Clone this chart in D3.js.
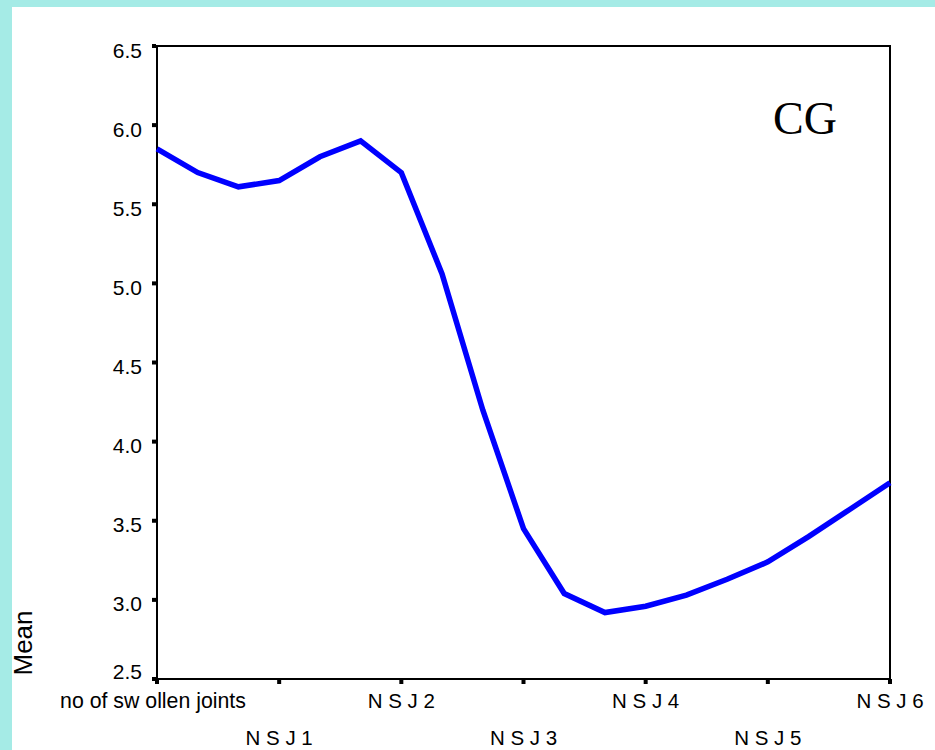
<!DOCTYPE html>
<html><head><meta charset="utf-8">
<script src="https://cdn.jsdelivr.net/npm/d3@7"></script>
<style>
html,body{margin:0;padding:0;background:#a5ebe6;}
svg{display:block;}
</style></head>
<body>
<svg id="chart" width="935" height="750"></svg>
<script>
// Data
const pointIndex = d3.range(19);
const meanValues = [5.85, 5.70, 5.61, 5.65, 5.80, 5.90, 5.70, 5.06, 4.20, 3.45, 3.04, 2.92, 2.96, 3.03, 3.13, 3.24, 3.40, 3.57, 3.74];
const xTickIndex = [0, 3, 6, 9, 12, 15, 18];
const xTickLabels = ["no of sw ollen joints", "N S J 1", "N S J 2", "N S J 3", "N S J 4", "N S J 5", "N S J 6"];
const yTickValues = [2.5, 3.0, 3.5, 4.0, 4.5, 5.0, 5.5, 6.0, 6.5];
const yTitle = "Mean";
const panelLabel = "CG";

const svg = d3.select("#chart");
const W = 935, H = 750;
const plot = {left: 157, right: 890, top: 46, bottom: 679};

// white page area
svg.append("rect").attr("x", 12).attr("y", 7).attr("width", W - 12).attr("height", H - 7).attr("fill", "#ffffff");

const x = d3.scaleLinear().domain([0, 18]).range([plot.left, plot.right]);
const y = d3.scaleLinear().domain([2.5, 6.5]).range([plot.bottom, plot.top]);

const sans = "'Liberation Sans', Arial, sans-serif";

// frame
svg.append("rect")
  .attr("x", plot.left).attr("y", plot.top)
  .attr("width", plot.right - plot.left).attr("height", plot.bottom - plot.top)
  .attr("fill", "none").attr("stroke", "#000").attr("stroke-width", 2);

// y ticks
svg.selectAll(".ytick").data(yTickValues).enter().append("rect")
  .attr("x", plot.left - 5).attr("y", d => y(d) - 2)
  .attr("width", 4).attr("height", 4).attr("fill", "#000");
svg.selectAll(".ylab").data(yTickValues).enter().append("text")
  .attr("x", 142).attr("y", d => Math.min(y(d) + 11.5, plot.bottom))
  .attr("text-anchor", "end").attr("font-family", sans).attr("font-size", 21)
  .attr("fill", "#000").text(d => d.toFixed(1));

// x ticks
svg.selectAll(".xtick").data(xTickIndex).enter().append("rect")
  .attr("x", d => x(d) - 2).attr("y", plot.bottom)
  .attr("width", 4).attr("height", 5).attr("fill", "#000");
svg.selectAll(".xlab").data(xTickIndex).enter().append("text")
  .attr("x", d => x(d)).attr("dx", (d, i) => i === 0 ? -4 : 0)
  .attr("y", (d, i) => i % 2 === 0 ? 708 : 745)
  .attr("text-anchor", "middle").attr("font-family", sans)
  .attr("font-size", (d, i) => i === 0 ? 21.3 : 20.5)
  .attr("fill", "#000").text((d, i) => xTickLabels[i]);

// line
const line = d3.line().x((d, i) => x(pointIndex[i])).y(d => y(d));
svg.append("path").datum(meanValues)
  .attr("d", line).attr("fill", "none").attr("stroke", "#0000ff")
  .attr("stroke-width", 5.5).attr("stroke-linejoin", "miter");

// y title
svg.append("text")
  .attr("transform", "translate(32,643) rotate(-90)")
  .attr("text-anchor", "middle").attr("font-family", sans).attr("font-size", 26)
  .attr("fill", "#000").text(yTitle);

// panel label
svg.append("text")
  .attr("x", 805).attr("y", 134).attr("text-anchor", "middle")
  .attr("font-family", "'Liberation Serif', 'Times New Roman', serif").attr("font-size", 46)
  .attr("fill", "#000").text(panelLabel);
</script>
</body></html>
